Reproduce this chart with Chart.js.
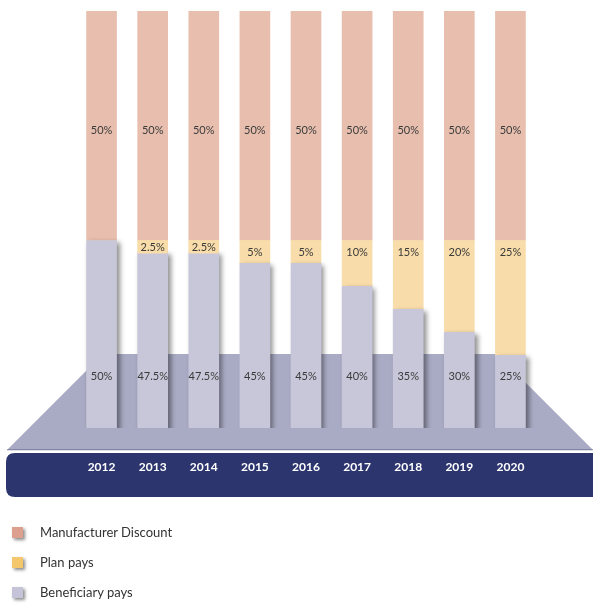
<!DOCTYPE html>
<html>
<head>
<meta charset="utf-8">
<script src="https://cdn.jsdelivr.net/npm/chart.js@4/dist/chart.umd.min.js"></script>
<style>
  html, body { margin: 0; padding: 0; background: #fff; }
  #wrap { position: relative; width: 593px; height: 603px; overflow: hidden; }
  #legend { position: absolute; left: 0; top: 0; width: 593px; height: 603px; pointer-events: none;
    font-family: Lato, "Open Sans", sans-serif; font-size: 13px; color: #333; }
  .item { position: absolute; left: 12px; height: 12px; display: flex; align-items: center; }
  .sw { width: 11px; height: 11px; box-shadow: 2px 2px 3px rgba(0,0,0,0.45); margin-right: 17px; }
</style>
</head>
<body>
<div id="wrap">
  <canvas id="c" width="593" height="603"></canvas>
  <div id="legend"></div>
</div>
<script>
const years = ['2012','2013','2014','2015','2016','2017','2018','2019','2020'];
const beneficiaryPays = [50, 47.5, 47.5, 45, 45, 40, 35, 30, 25];
const planPays = [0, 2.5, 2.5, 5, 5, 10, 15, 20, 25];
const manufacturerDiscount = [50, 50, 50, 50, 50, 50, 50, 50, 50];
const seriesNames = ['Beneficiary pays', 'Plan pays', 'Manufacturer Discount'];
const legendOrder = ['Manufacturer Discount', 'Plan pays', 'Beneficiary pays'];
const yMinValue = 9.15;
const yMaxValue = 100;

const COL = {
  ben: '#c8c7da', plan: '#f8dca9', manu: '#e8bfae',
  benIcon: '#c4c3d8', planIcon: '#f5c76c', manuIcon: '#dea08e',
  platform: '#a9abc4', band: '#2c356e', text: '#3a3a3a'
};

const backdrop = {
  id: 'backdrop',
  beforeDraw(chart) {
    const ctx = chart.ctx;
    ctx.save();
    // platform (trapezoid)
    ctx.fillStyle = COL.platform;
    ctx.beginPath();
    ctx.moveTo(103, 354);
    ctx.lineTo(497, 354);
    ctx.lineTo(593, 450);
    ctx.lineTo(7, 450);
    ctx.closePath();
    ctx.fill();
    ctx.fillStyle = 'rgba(60,64,110,0.35)';
    ctx.fillRect(7, 449, 586, 1.5);
    // navy band
    ctx.fillStyle = COL.band;
    const x = 6, y = 453, w = 600, h = 44, r = 9;
    ctx.beginPath();
    ctx.moveTo(x + r, y);
    ctx.lineTo(x + w, y);
    ctx.lineTo(x + w, y + h);
    ctx.lineTo(x + r, y + h);
    ctx.quadraticCurveTo(x, y + h, x, y + h - r);
    ctx.lineTo(x, y + r);
    ctx.quadraticCurveTo(x, y, x + r, y);
    ctx.closePath();
    ctx.fill();
    ctx.restore();
  },
  beforeDatasetDraw(chart, args) {
    if (args.index === 0) {
      const ctx = chart.ctx;
      ctx.save();
      ctx.shadowColor = 'rgba(0,0,0,0.45)';
      ctx.shadowBlur = 5;
      ctx.shadowOffsetX = 3;
      ctx.shadowOffsetY = 2;
    }
  },
  afterDatasetDraw(chart, args) {
    if (args.index === 0) chart.ctx.restore();
  },
  afterDatasetsDraw(chart) {
    const ctx = chart.ctx;
    const area = chart.chartArea;
    ctx.save();
    ctx.font = '11px Lato, "Open Sans", sans-serif';
    ctx.textAlign = 'center';
    ctx.textBaseline = 'middle';
    const mBen = chart.getDatasetMeta(0).data;
    const mPlan = chart.getDatasetMeta(1).data;
    const mManu = chart.getDatasetMeta(2).data;
    for (let i = 0; i < years.length; i++) {
      const m = mManu[i];
      ctx.fillStyle = COL.text;
      ctx.fillText(manufacturerDiscount[i] + '%', m.x, (m.y + m.base) / 2 + 5);
      if (planPays[i] > 0) {
        const p = mPlan[i];
        const segH = p.base - p.y;
        const txt = planPays[i] + '%';
        let ly;
        if (segH < 20) {
          const tw = ctx.measureText(txt).width + 2;
          const bw = Math.max(tw, p.width);
          ctx.fillStyle = COL.plan;
          ctx.fillRect(p.x - bw / 2, p.y, bw, 13);
          ly = p.y + 7;
        } else {
          ly = p.y + 11.5;
        }
        ctx.fillStyle = COL.text;
        ctx.fillText(txt, p.x, ly);
      }
      const b = mBen[i];
      ctx.fillStyle = COL.text;
      ctx.fillText(beneficiaryPays[i] + '%', b.x, area.bottom - 52);
    }
    ctx.restore();
  }
};

new Chart(document.getElementById('c'), {
  type: 'bar',
  data: {
    labels: years,
    datasets: [
      { label: seriesNames[0], data: beneficiaryPays, backgroundColor: COL.ben },
      { label: seriesNames[1], data: planPays, backgroundColor: COL.plan },
      { label: seriesNames[2], data: manufacturerDiscount, backgroundColor: COL.manu }
    ]
  },
  options: {
    responsive: false,
    animation: false,
    events: [],
    layout: { padding: { left: 76, right: 57, top: 11, bottom: 115 } },
    datasets: { bar: { barThickness: 30, borderWidth: 0 } },
    plugins: { legend: { display: false }, tooltip: { enabled: false } },
    scales: {
      x: {
        stacked: true,
        grid: { display: false, drawTicks: false },
        border: { display: false },
        afterFit(scale) { scale.height = 60; },
        ticks: { color: '#ffffff', padding: 32, font: { family: 'Lato, "Open Sans", sans-serif', size: 12, weight: 'bold' } }
      },
      y: { stacked: true, display: false, min: yMinValue, max: yMaxValue }
    }
  },
  plugins: [backdrop]
});

const iconColors = { 'Manufacturer Discount': COL.manuIcon, 'Plan pays': COL.planIcon, 'Beneficiary pays': COL.benIcon };
const legendTops = [526, 556, 586];
const lg = document.getElementById('legend');
legendOrder.forEach((name, i) => {
  const it = document.createElement('div');
  it.className = 'item';
  it.style.top = legendTops[i] + 'px';
  const sw = document.createElement('div');
  sw.className = 'sw';
  sw.style.background = iconColors[name];
  const t = document.createElement('span');
  t.textContent = name;
  it.appendChild(sw);
  it.appendChild(t);
  lg.appendChild(it);
});
</script>
</body>
</html>
